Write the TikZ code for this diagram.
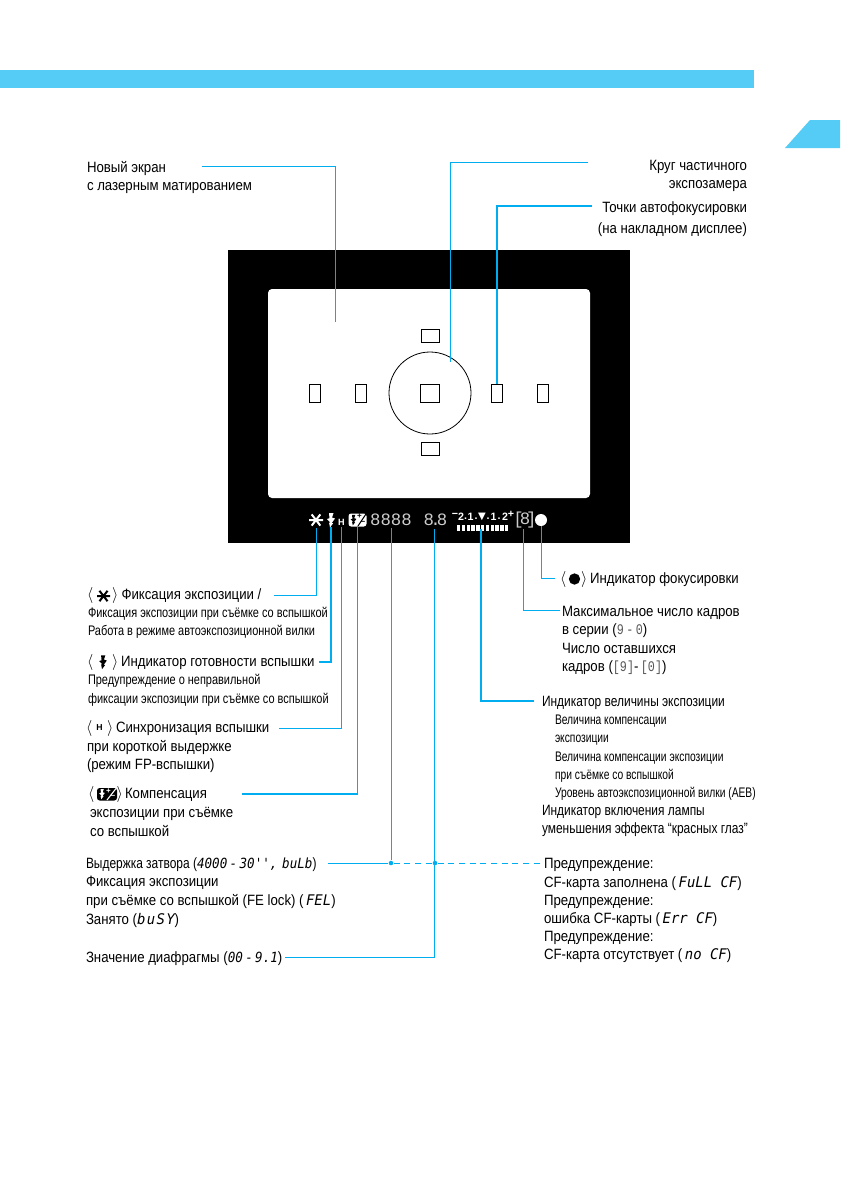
\documentclass[tikz,border=0pt]{standalone}
\usepackage{fontspec}
\setmainfont{Liberation Sans}
\newfontfamily\narrowf[FakeStretch=0.885]{Liberation Sans}
\newfontfamily\tightf[FakeStretch=0.80]{Liberation Sans}
\newfontfamily\smallf[FakeStretch=0.79]{Liberation Sans}
\newfontfamily\smallerf[FakeStretch=0.74]{Liberation Sans}
\newfontfamily\lcdw[FakeStretch=0.95]{DejaVu Sans Mono}
\newfontfamily\lcdn[FakeStretch=0.90]{DejaVu Sans Mono}
\newfontfamily\seg{Liberation Mono}
\newfontfamily\segn[FakeStretch=0.80]{Liberation Mono}
\newfontfamily\sym{DejaVu Sans}
\definecolor{lead}{HTML}{00AEEF}
\definecolor{band}{HTML}{55CCF5}
\newcommand{\lc}[1]{{\lcdw\itshape\fontsize{11}{13}\selectfont #1}}
\newcommand{\lcn}[1]{{\lcdn\itshape\fontsize{10.5}{13}\selectfont #1}}
\newcommand{\dg}[1]{{\segn\fontsize{11}{13}\selectfont\color{black!65}#1}}
\newcommand{\staricon}[4]{\draw[#4,line width=1.5pt] (#1-#3,#2) -- (#1+#3,#2) (#1-0.62*#3,#2-0.8*#3) -- (#1+0.62*#3,#2+0.8*#3) (#1-0.62*#3,#2+0.8*#3) -- (#1+0.62*#3,#2-0.8*#3);}
\newcommand{\flashicon}[4]{\fill[#4,shift={(#1,#2)},scale=#3] (-2,-7) -- (2.5,-7) -- (1,-2.5) -- (4,-1.5) -- (0.7,3) -- (2.2,3.2) -- (-1,7.5) -- (-2,2.5) -- (-0.5,2.5) -- (-4,-1) -- (-1.5,-1.8) -- cycle;}
\tikzset{
 lbl/.style={anchor=base west,inner sep=0pt,outer sep=0pt,font=\narrowf\fontsize{11.2}{13}\selectfont,text=black},
 lbr/.style={lbl,anchor=base east},
 sml/.style={lbl,font=\smallf\fontsize{10.4}{13}\selectfont},
 smr/.style={lbl,font=\smallerf\fontsize{10.4}{13}\selectfont},
 tgt/.style={lbl,font=\tightf\fontsize{11.2}{13}\selectfont},
 leader/.style={draw=lead,line width=0.7pt},
 leaderb/.style={draw=lead,line width=1.15pt},
 dashedlead/.style={draw=lead,line width=0.6pt,dash pattern=on 4.5pt off 3.5pt},
 afbox/.style={draw=black,line width=0.6pt,fill=white,inner sep=0pt,minimum width=#1},
 vf/.style={inner sep=0pt,outer sep=0pt,text=white},
 jun/.style={circle,fill=lead,inner sep=0pt,minimum size=3.4pt},
 brk/.style={lbl,font=\fontsize{13}{14}\selectfont}
}
\begin{document}
\begin{tikzpicture}[x=0.75pt,y=-0.75pt]
\useasboundingbox (0,0) rectangle (840,1190);
\fill[white] (0,0) rectangle (840,1190);
\fill[band] (0,70) rectangle (754,88);
\fill[band] (785,148) -- (810,120) -- (840,120) -- (840,148) -- cycle;
% viewfinder
\fill[black] (228,250) rectangle (630,543);
\fill[white,rounded corners=3pt] (268,289) rectangle (590,498);
\node[draw=black,line width=0.6pt,circle,minimum size=61.5pt,inner sep=0pt] (meter) at (430,393) {};
\foreach \n/\xx in {a/315,b/361,c/497,d/543}{
 \node[afbox=8.2pt,minimum height=13.5pt] (af\n) at (\xx,393) {};
}
\node[afbox=14.5pt,minimum height=13.5pt] (afc) at (430,393) {};
\node[afbox=13.5pt,minimum height=9.5pt] (aft) at (430,336) {};
\node[afbox=13.5pt,minimum height=9.5pt] (afu) at (430,449) {};
\coordinate (screen) at (335,322);
% display
\staricon{316}{520}{7}{white}
\flashicon{331}{520}{1}{white}
\node[vf,font=\bfseries\fontsize{6.8}{7}\selectfont] (hh) at (341.5,522) {H};
\fill[white,rounded corners=2pt] (348.5,513.5) rectangle (366.5,526.5);
\flashicon{353.5}{520}{0.72}{black}
\draw[black,line width=0.8pt] (358,526) -- (366,514);
\node[vf,text=black,font=\bfseries\fontsize{6}{6}\selectfont] (cp) at (359.5,516.5) {+};
\node[vf,text=black,font=\bfseries\fontsize{6}{6}\selectfont] (cm) at (363,523) {−};
\node[vf,font=\seg\fontsize{13}{13}\selectfont,text=white!80!black] (tv) at (391,520) {8888};
\node[vf,font=\seg\fontsize{13}{13}\selectfont,text=white!80!black] (av) at (435.5,520) {8\kern-2.8pt.\kern-2.8pt 8};
\foreach \n/\xx/\yy/\s in {s1/455/515/−,s2/461/517/2,s3/465.5/518.5/.,s4/470.5/517/1,s5/476/518.5/.,s7/488/518.5/.,s8/493.5/517/1,s9/499/518.5/.,s10/505/517/2,s11/511/514/+}{
 \node[vf,font=\bfseries\fontsize{8}{8}\selectfont] (\n) at (\xx,\yy) {\s};
}
\node[vf,font=\sym\fontsize{7.5}{7}\selectfont] (s6) at (482,517) {▼};
\foreach \i in {0,...,10}{
 \fill[white] ({457+\i*4.8},524.5) rectangle ({460.4+\i*4.8},531);
}
\node[vf,font=\seg\fontsize{13}{13}\selectfont,text=white!80!black] (cnt) at (525,520) {[\kern-3pt 8\kern-3pt]};
\node[circle,fill=white,minimum size=9pt,inner sep=0pt] (focus) at (541,520) {};
\coordinate (tvb) at (391,528);
\coordinate (avb) at (434.7,529);
\coordinate (mtb) at (481,529);
\coordinate (cntb) at (523,529);
\coordinate (starb) at (316.5,528);
\coordinate (flb) at (331,527);
\coordinate (hb) at (341.5,527);
\coordinate (cb) at (357.5,526);
% connectors
\coordinate (l1) at (202,166); \draw[leader] (l1) -| (screen);
\coordinate (l2) at (588,162); \coordinate (mt) at (450,362); \draw[leader] (l2) -| (mt);
\coordinate (l3) at (592,206); \coordinate (afp) at (497,384); \draw[leaderb] (l3) -| (afp);
\coordinate (l4) at (274,595); \draw[leader] (l4) -| (starb);
\coordinate (l5) at (319,662); \draw[leaderb] (l5) -| (flb);
\coordinate (l6) at (279,728); \draw[leader] (l6) -| (hb);
\coordinate (l7) at (242,794); \draw[leaderb] (l7) -| (cb);
\coordinate (l8) at (555,578); \draw[leader] (l8) -| (focus.south);
\coordinate (l9) at (560,610.5); \draw[leader] (l9) -| (cntb);
\coordinate (l10) at (534,701); \draw[leaderb] (l10) -| (mtb);
\coordinate (l11) at (328,863); \coordinate (l12) at (540,863);
\node[jun] (j1) at (391,863) {}; \node[jun] (j2) at (435,863) {};
\draw[leader] (l11) -- (j1);
\draw[leader] (tvb) -- (j1);
\draw[dashedlead] (j1) -- (j2);
\draw[dashedlead] (j2) -- (l12);
\coordinate (l13) at (285,957); \draw[leader] (l13) -| (avb);
% top labels
\node[lbl] (t1) at (87,172) {Новый экран};
\node[lbl] (t2) at (87,190) {с лазерным матированием};
\node[lbr] (t3) at (747,170) {Круг частичного};
\node[lbr] (t4) at (747,188) {экспозамера};
\node[lbr] (t5) at (747,212) {Точки автофокусировки};
\node[lbr] (t6) at (747,233) {(на накладном дисплее)};
% left labels
\node[brk] (b1) at (87,599) {$\langle$};
\staricon{103.5}{596}{6.5}{black}
\node[brk] (b2) at (112,599) {$\rangle$};
\node[lbl] (t7) at (121.5,599) {Фиксация экспозиции /};
\node[sml] (t8) at (88,617) {Фиксация экспозиции при съёмке со вспышкой};
\node[sml] (t9) at (88,635) {Работа в режиме автоэкспозиционной вилки};
\node[brk] (b3) at (87,666) {$\langle$};
\flashicon{103}{662}{0.95}{black}
\node[brk] (b4) at (112,666) {$\rangle$};
\node[lbl] (t10) at (121,666) {Индикатор готовности вспышки};
\node[sml] (t11) at (88,684) {Предупреждение о неправильной};
\node[sml] (t12) at (88,703) {фиксации экспозиции при съёмке со вспышкой};
\node[brk] (b5) at (86,732) {$\langle$};
\node[font=\bfseries\fontsize{6.5}{7}\selectfont,inner sep=0pt] (i3) at (99.5,728) {Н};
\node[brk] (b6) at (107,732) {$\rangle$};
\node[lbl] (t13) at (116,732) {Синхронизация вспышки};
\node[lbl] (t14) at (87,751) {при короткой выдержке};
\node[lbl] (t15) at (87,769) {(режим FP-вспышки)};
\node[brk] (b7) at (88,798) {$\langle$};
\fill[black,rounded corners=2pt] (97,788) rectangle (117,800.5);
\flashicon{102}{794}{0.7}{white}
\draw[white,line width=0.8pt] (107,800) -- (116,788.5);
\node[inner sep=0pt,text=white,font=\bfseries\fontsize{6}{6}\selectfont] (i4p) at (108.5,791) {+};
\node[inner sep=0pt,text=white,font=\bfseries\fontsize{6}{6}\selectfont] (i4m) at (113,797) {−};
\node[brk] (b8) at (116.5,798) {$\rangle$};
\node[lbl] (t16) at (125,798) {Компенсация};
\node[lbl] (t17) at (90,817) {экспозиции при съёмке};
\node[lbl] (t18) at (90,836) {со вспышкой};
\node[tgt] (t19) at (86,868) {Выдержка затвора (\lcn{4000\,-\,30'',\,\,buLb})};
\node[lbl] (t20) at (86,886) {Фиксация экспозиции};
\node[lbl] (t21) at (86,905) {при съёмке со вспышкой (FE lock) (\,\lc{FEL})};
\node[lbl] (t22) at (86,924) {Занято (\lc{b\kern1pt u\kern1pt S\kern1pt Y})};
\node[lbl] (t23) at (86,962) {Значение диафрагмы (\lcn{00\,-\,9.1})};
% right labels
\node[brk] (b9) at (560,583) {$\langle$};
\node[circle,fill=black,minimum size=8.5pt,inner sep=0pt] (i5) at (574.5,579) {};
\node[brk] (b10) at (581,583) {$\rangle$};
\node[lbl] (t24) at (590,583) {Индикатор фокусировки};
\node[lbl] (t25) at (562,616) {Максимальное число кадров};
\node[lbl] (t26) at (562,634) {в серии (\dg{9\,-\,0})};
\node[lbl] (t27) at (562,653) {Число оставшихся};
\node[lbl] (t28) at (562,671) {кадров (\dg{[9]}-\,\dg{[0]})};
\node[tgt] (t29) at (542,706) {Индикатор величины экспозиции};
\node[smr] (t30) at (555,724) {Величина компенсации};
\node[smr] (t31) at (555,742) {экспозиции};
\node[smr] (t32) at (555,761) {Величина компенсации экспозиции};
\node[smr] (t33) at (555,779) {при съёмке со вспышкой};
\node[smr] (t34) at (555,797) {Уровень автоэкспозиционной вилки (AEB)};
\node[tgt] (t35) at (542,815) {Индикатор включения лампы};
\node[tgt] (t36) at (542,833) {уменьшения эффекта “красных глаз”};
\node[lbl] (t37) at (544,868) {Предупреждение:};
\node[lbl] (t38) at (544,887) {CF-карта заполнена (\,\lc{FuLL CF})};
\node[lbl] (t39) at (544,905) {Предупреждение:};
\node[lbl] (t40) at (544,923) {ошибка CF-карты (\,\lc{Err CF})};
\node[lbl] (t41) at (544,941) {Предупреждение:};
\node[lbl] (t42) at (544,959) {CF-карта отсутствует (\,\lc{no CF})};
\end{tikzpicture}
\end{document}
